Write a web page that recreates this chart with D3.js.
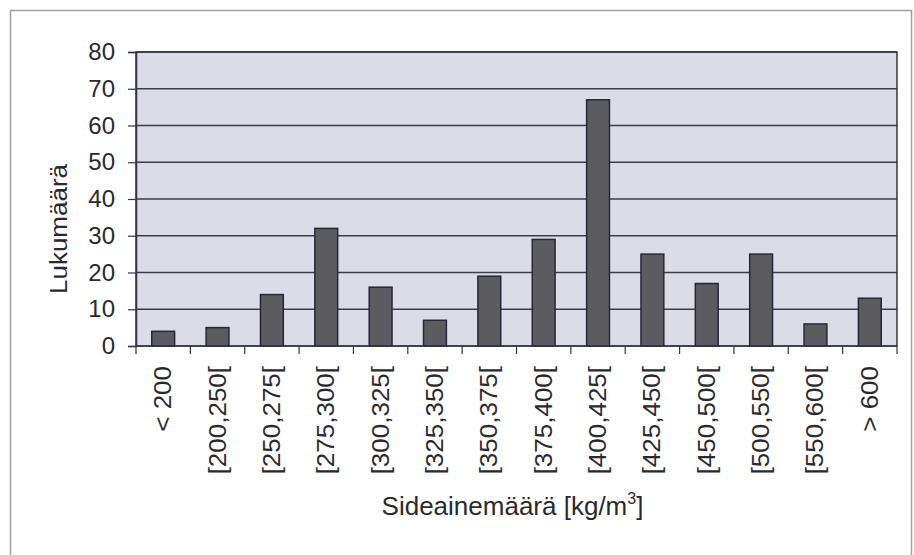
<!DOCTYPE html>
<html>
<head>
<meta charset="utf-8">
<script src="https://cdn.jsdelivr.net/npm/d3@7"></script>
<style>
  body { margin: 0; background: #fff; }
  text { font-family: "Liberation Sans", Arial, sans-serif; fill: #2a2a2e; }
</style>
</head>
<body>
<div id="chart"></div>
<script>
// luokat ja lukumäärät
const categories = ["< 200", "[200,250[", "[250,275[", "[275,300[", "[300,325[", "[325,350[",
  "[350,375[", "[375,400[", "[400,425[", "[425,450[", "[450,500[", "[500,550[", "[550,600[", "> 600"];
const counts = [4, 5, 14, 32, 16, 7, 19, 29, 67, 25, 17, 25, 6, 13];
const yTicks = [0, 10, 20, 30, 40, 50, 60, 70, 80];

const width = 914, height = 555;
const margin = { left: 136, top: 52, right: 17, bottom: 209 };
const plotW = width - margin.left - margin.right;

const svg = d3.select("#chart").append("svg")
  .attr("width", width)
  .attr("height", height);

// ulkokehys
svg.append("rect")
  .attr("x", 10.5).attr("y", 10.5)
  .attr("width", 901).attr("height", 560)
  .attr("fill", "none")
  .attr("stroke", "#a0a0a0")
  .attr("stroke-width", 1.5);

const x = d3.scaleBand()
  .domain(categories)
  .range([margin.left, width - margin.right])
  .paddingInner(0.58)
  .paddingOuter(0.29);

const y = d3.scaleLinear()
  .domain([0, 80])
  .range([height - margin.bottom, margin.top]);

// piirtoalue
svg.append("rect")
  .attr("x", margin.left).attr("y", margin.top)
  .attr("width", plotW)
  .attr("height", y(0) - margin.top)
  .attr("fill", "#dcdce6");

// vaakaviivat
svg.append("g")
  .selectAll("line")
  .data(yTicks)
  .join("line")
  .attr("x1", margin.left).attr("x2", width - margin.right)
  .attr("y1", d => y(d)).attr("y2", d => y(d))
  .attr("stroke", "#3c3c4c")
  .attr("stroke-width", 1.3);

// pylväät
svg.append("g")
  .selectAll("rect")
  .data(counts)
  .join("rect")
  .attr("x", (d, i) => x(categories[i]))
  .attr("y", d => y(d))
  .attr("width", x.bandwidth())
  .attr("height", d => y(0) - y(d))
  .attr("fill", "#5c5c60")
  .attr("stroke", "#26263a")
  .attr("stroke-width", 1.5);

// reunat
svg.append("rect")
  .attr("x", margin.left).attr("y", margin.top)
  .attr("width", plotW)
  .attr("height", y(0) - margin.top)
  .attr("fill", "none")
  .attr("stroke", "#333344")
  .attr("stroke-width", 1.5);

// y-akseli
const yAxis = svg.append("g")
  .attr("transform", `translate(${margin.left},0)`)
  .call(d3.axisLeft(y).tickValues(yTicks).tickSize(8).tickPadding(13));
yAxis.select(".domain").attr("stroke", "#333344").attr("stroke-width", 1.5);
yAxis.selectAll(".tick line").attr("stroke", "#333344").attr("stroke-width", 1.2);
yAxis.selectAll(".tick text")
  .attr("font-size", 24)
  .attr("fill", "#2a2a2e")
  .style("font-family", "Liberation Sans, Arial, sans-serif");

// x-akseli: jakoviivat luokkien rajoilla
svg.append("g")
  .selectAll("line")
  .data(d3.range(categories.length + 1))
  .join("line")
  .attr("x1", i => margin.left + i * plotW / categories.length)
  .attr("x2", i => margin.left + i * plotW / categories.length)
  .attr("y1", y(0)).attr("y2", y(0) + 8)
  .attr("stroke", "#333344")
  .attr("stroke-width", 1.2);

// x-akselin nimikkeet
svg.append("g")
  .selectAll("text")
  .data(categories)
  .join("text")
  .attr("transform", d => `translate(${x(d) + x.bandwidth() / 2 + 8},${y(0) + 20}) rotate(-90) scale(1.13,1)`)
  .attr("text-anchor", "end")
  .attr("font-size", 23)
  .text(d => d);

// akselien otsikot
svg.append("text")
  .attr("transform", `translate(67,${(margin.top + y(0)) / 2 + 30}) rotate(-90) scale(1.13,1)`)
  .attr("text-anchor", "middle")
  .attr("font-size", 23)
  .text("Lukumäärä");

const xt = svg.append("text")
  .attr("x", margin.left + plotW / 2 - 4).attr("y", 515)
  .attr("text-anchor", "middle")
  .attr("font-size", 26);
xt.append("tspan").text("Sideainemäärä [kg/m");
xt.append("tspan").attr("dy", -11).attr("font-size", 16).text("3");
xt.append("tspan").attr("dy", 11).text("]");
</script>
</body>
</html>
